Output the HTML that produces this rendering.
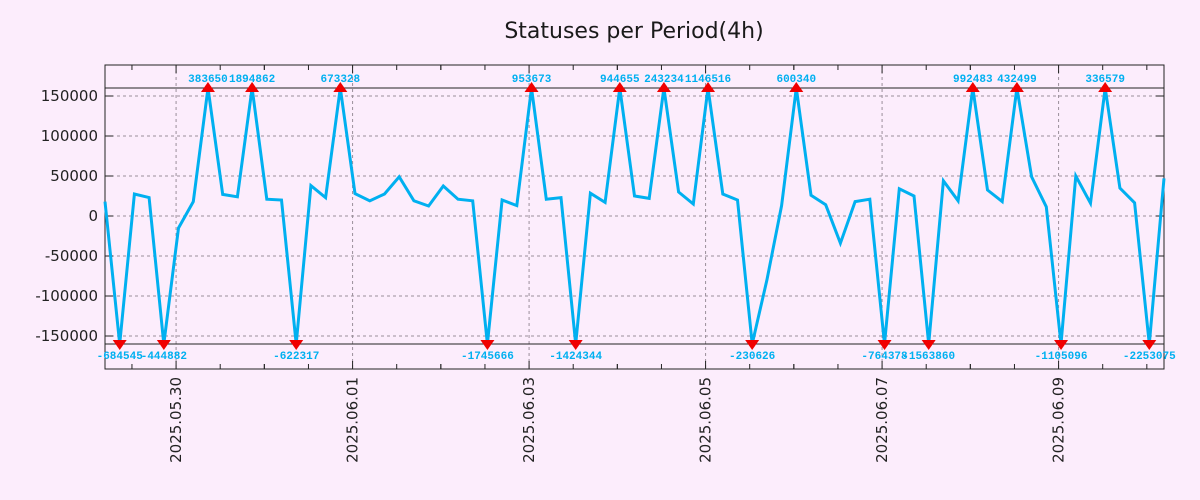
<!DOCTYPE html>
<html><head><meta charset="utf-8">
<style>
html,body{margin:0;padding:0;background:#fcedfc;}
svg{display:block;font-family:"DejaVu Sans","Liberation Sans",sans-serif;}
</style></head>
<body>
<svg id="chart" width="1200" height="500" viewBox="0 0 1200 500">
<rect x="0" y="0" width="1200" height="500" fill="#fcedfc"/>
<text x="634" y="38" text-anchor="middle" font-size="22" fill="#1a1a1a">Statuses per Period(4h)</text>
<g id="grid"></g>
<g id="axes"></g>
<g id="series"></g>
<g id="marks"></g>
</svg>
<script>
const values = [18000,-684545,27500,23000,-444882,-15000,18000,383650,27000,24000,1894862,21000,20000,-622317,38000,23000,673328,28000,19000,27500,49000,19000,12500,37500,21000,19000,-1745666,20000,13000,953673,21000,23000,-1424344,28500,17000,944655,25000,22000,243234,30000,15000,1146516,27500,20000,-230626,-80000,13000,600340,26000,14000,-34000,18000,21000,-764378,34000,25000,-1563860,44000,19000,992483,32500,18000,432499,49000,11500,-1105096,50000,16000,336579,35000,16500,-2253075,47000];
const yTicks = [-150000,-100000,-50000,0,50000,100000,150000];
const dateLabels = ["2025.05.30","2025.06.01","2025.06.03","2025.06.05","2025.06.07","2025.06.09"];
const dateOffsetsHours = [19.33,67.33,115.33,163.33,211.33,259.33];
const clipMax = 160000;
const clipMin = -160000;

const NS="http://www.w3.org/2000/svg";
const L=105,R=1164,T=65,B=369;
const stepHours=4;
const nSteps=values.length-1;
function xIdx(i){return L+(R-L)*i/nSteps;}
function xHours(h){return L+(R-L)*(h/stepHours)/nSteps;}
function yS(v){return 216-v*40/50000;}
function mk(tag,attrs,parent){const e=document.createElementNS(NS,tag);for(const k in attrs)e.setAttribute(k,attrs[k]);parent.appendChild(e);return e;}
const grid=document.getElementById('grid'),axes=document.getElementById('axes'),series=document.getElementById('series'),marks=document.getElementById('marks');

yTicks.forEach(v=>{
  const y=yS(v);
  const g=mk('line',{x1:L,x2:R,y1:y,y2:y,stroke:'#9a8f9a','stroke-width':1,'stroke-dasharray':'3,3'},grid);
  
  
  const t1=mk('line',{x1:L,x2:L+8,y1:y,y2:y,stroke:'#222'},axes);
  
  
  const t2=mk('line',{x1:R-8,x2:R,y1:y,y2:y,stroke:'#222'},axes);
  
  
  const tx=mk('text',{x:98,y:y+5,'text-anchor':'end','font-size':15,fill:'#222'},axes);
  tx.textContent=v;
  
  
});
dateOffsetsHours.forEach((h,k)=>{
  const x=xHours(h);
  const g=mk('line',{x1:x,x2:x,y1:T,y2:B,stroke:'#9a8f9a','stroke-width':1,'stroke-dasharray':'3,3'},grid);
  
  
  [0,-12,12,-24,24].forEach(d=>{
    const xx=xHours(h+d); if(xx<L||xx>R) return;
    const len=d===0?8:5;
    const a=mk('line',{x1:xx,x2:xx,y1:B,y2:B-len,stroke:'#222'},axes);
    
    
    const b=mk('line',{x1:xx,x2:xx,y1:T,y2:T+len,stroke:'#222'},axes);
    
    
  });
  const tx=mk('text',{x:0,y:0,'text-anchor':'end','font-size':15,fill:'#222',transform:`translate(${x+5},377) rotate(-90)`},axes);
  tx.textContent=dateLabels[k];
  
  
});
const frame=mk('rect',{x:L,y:T,width:R-L,height:B-T,fill:'none',stroke:'#222','stroke-width':1},axes);


[clipMax,clipMin].forEach(v=>{
  const c=mk('line',{x1:L,x2:R,y1:yS(v),y2:yS(v),stroke:'#222','stroke-width':1},axes);
  
  
});
const pts=values.map((v,i)=>xIdx(i).toFixed(1)+','+yS(Math.max(clipMin,Math.min(clipMax,v))).toFixed(1)).join(' ');
const pl=mk('polyline',{points:pts,fill:'none',stroke:'#00b0f0','stroke-width':3,'stroke-linejoin':'miter'},series);


values.forEach((v,i)=>{
  if(v<=clipMax&&v>=clipMin) return;
  const x=xIdx(i);
  let tri,ly,nm;
  if(v>clipMax){const y=yS(clipMax);tri=`${x-7},${y+4} ${x+7},${y+4} ${x},${y-6}`;ly=y-6;nm='overflow-marker';}
  else{const y=yS(clipMin);tri=`${x-7},${y-4} ${x+7},${y-4} ${x},${y+6}`;ly=y+15;nm='underflow-marker';}
  const p=mk('polygon',{points:tri,fill:'#f00000'},marks);
  
  
  const t=mk('text',{x:x,y:ly,'text-anchor':'middle','font-size':11,'font-weight':'bold','font-family':'Liberation Mono, DejaVu Sans Mono, monospace',fill:'#00b0f0'},marks);
  t.textContent=v;
  
  
});
</script>
</body></html>
